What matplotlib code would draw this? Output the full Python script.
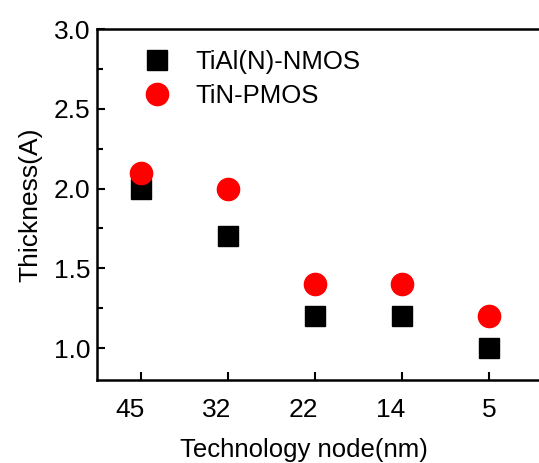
import matplotlib.pyplot as plt
import matplotlib.transforms as mtransforms
from matplotlib.ticker import MultipleLocator

plt.rcParams['font.family'] = ['Liberation Sans', 'DejaVu Sans']

# technology nodes (nm) and measured thickness
nodes = ['45', '32', '22', '14', '5']
nmos = [2.0, 1.7, 1.2, 1.2, 1.0]
pmos = [2.1, 2.0, 1.4, 1.4, 1.2]

fig = plt.figure(figsize=(5.39, 4.63), dpi=100)
ax = fig.add_axes([0.18, 0.1793, 0.8237, 0.758])

x = range(len(nodes))
ax.plot(x, nmos, 's', color='black', markersize=14.5, linestyle='none', label='TiAl(N)-NMOS')
ax.plot(x, pmos, 'o', color='red', markersize=16, linestyle='none', label='TiN-PMOS')

ax.set_xlim(-0.5, 4.6)
ax.set_ylim(0.8, 3.0)
ax.set_xticks(list(x))
ax.set_xticklabels(nodes)
ax.yaxis.set_major_locator(MultipleLocator(0.5))
ax.yaxis.set_minor_locator(MultipleLocator(0.25))

for s in ax.spines.values():
    s.set_linewidth(1.8)
ax.tick_params(which='both', direction='in', width=1.5, labelsize=19)
ax.tick_params(which='major', length=6)
ax.tick_params(which='minor', length=4)
ax.tick_params(axis='x', pad=13)
ax.tick_params(axis='y', pad=5)
ax.tick_params(axis='y', which='both', right=False)
ax.tick_params(axis='x', which='both', top=False)

# the labels in the original sit a bit left of their ticks
shifts = [-11, -11, -11, -11, 1]
for lab, dx in zip(ax.get_xticklabels(), shifts):
    lab.set_transform(lab.get_transform() + mtransforms.ScaledTranslation(dx / 100, 0, fig.dpi_scale_trans))

ax.set_xlabel('Technology node(nm)', fontsize=18.5)
ax.set_ylabel('Thickness(A)', fontsize=19, labelpad=8)
ax.xaxis.set_label_coords(0.465, -0.165)

ax.legend(loc='upper left', bbox_to_anchor=(0.025, 1.007), frameon=False, fontsize=18.5,
          handletextpad=0.5, labelspacing=0.42, numpoints=1)

fig.savefig('out.png', dpi=100)
